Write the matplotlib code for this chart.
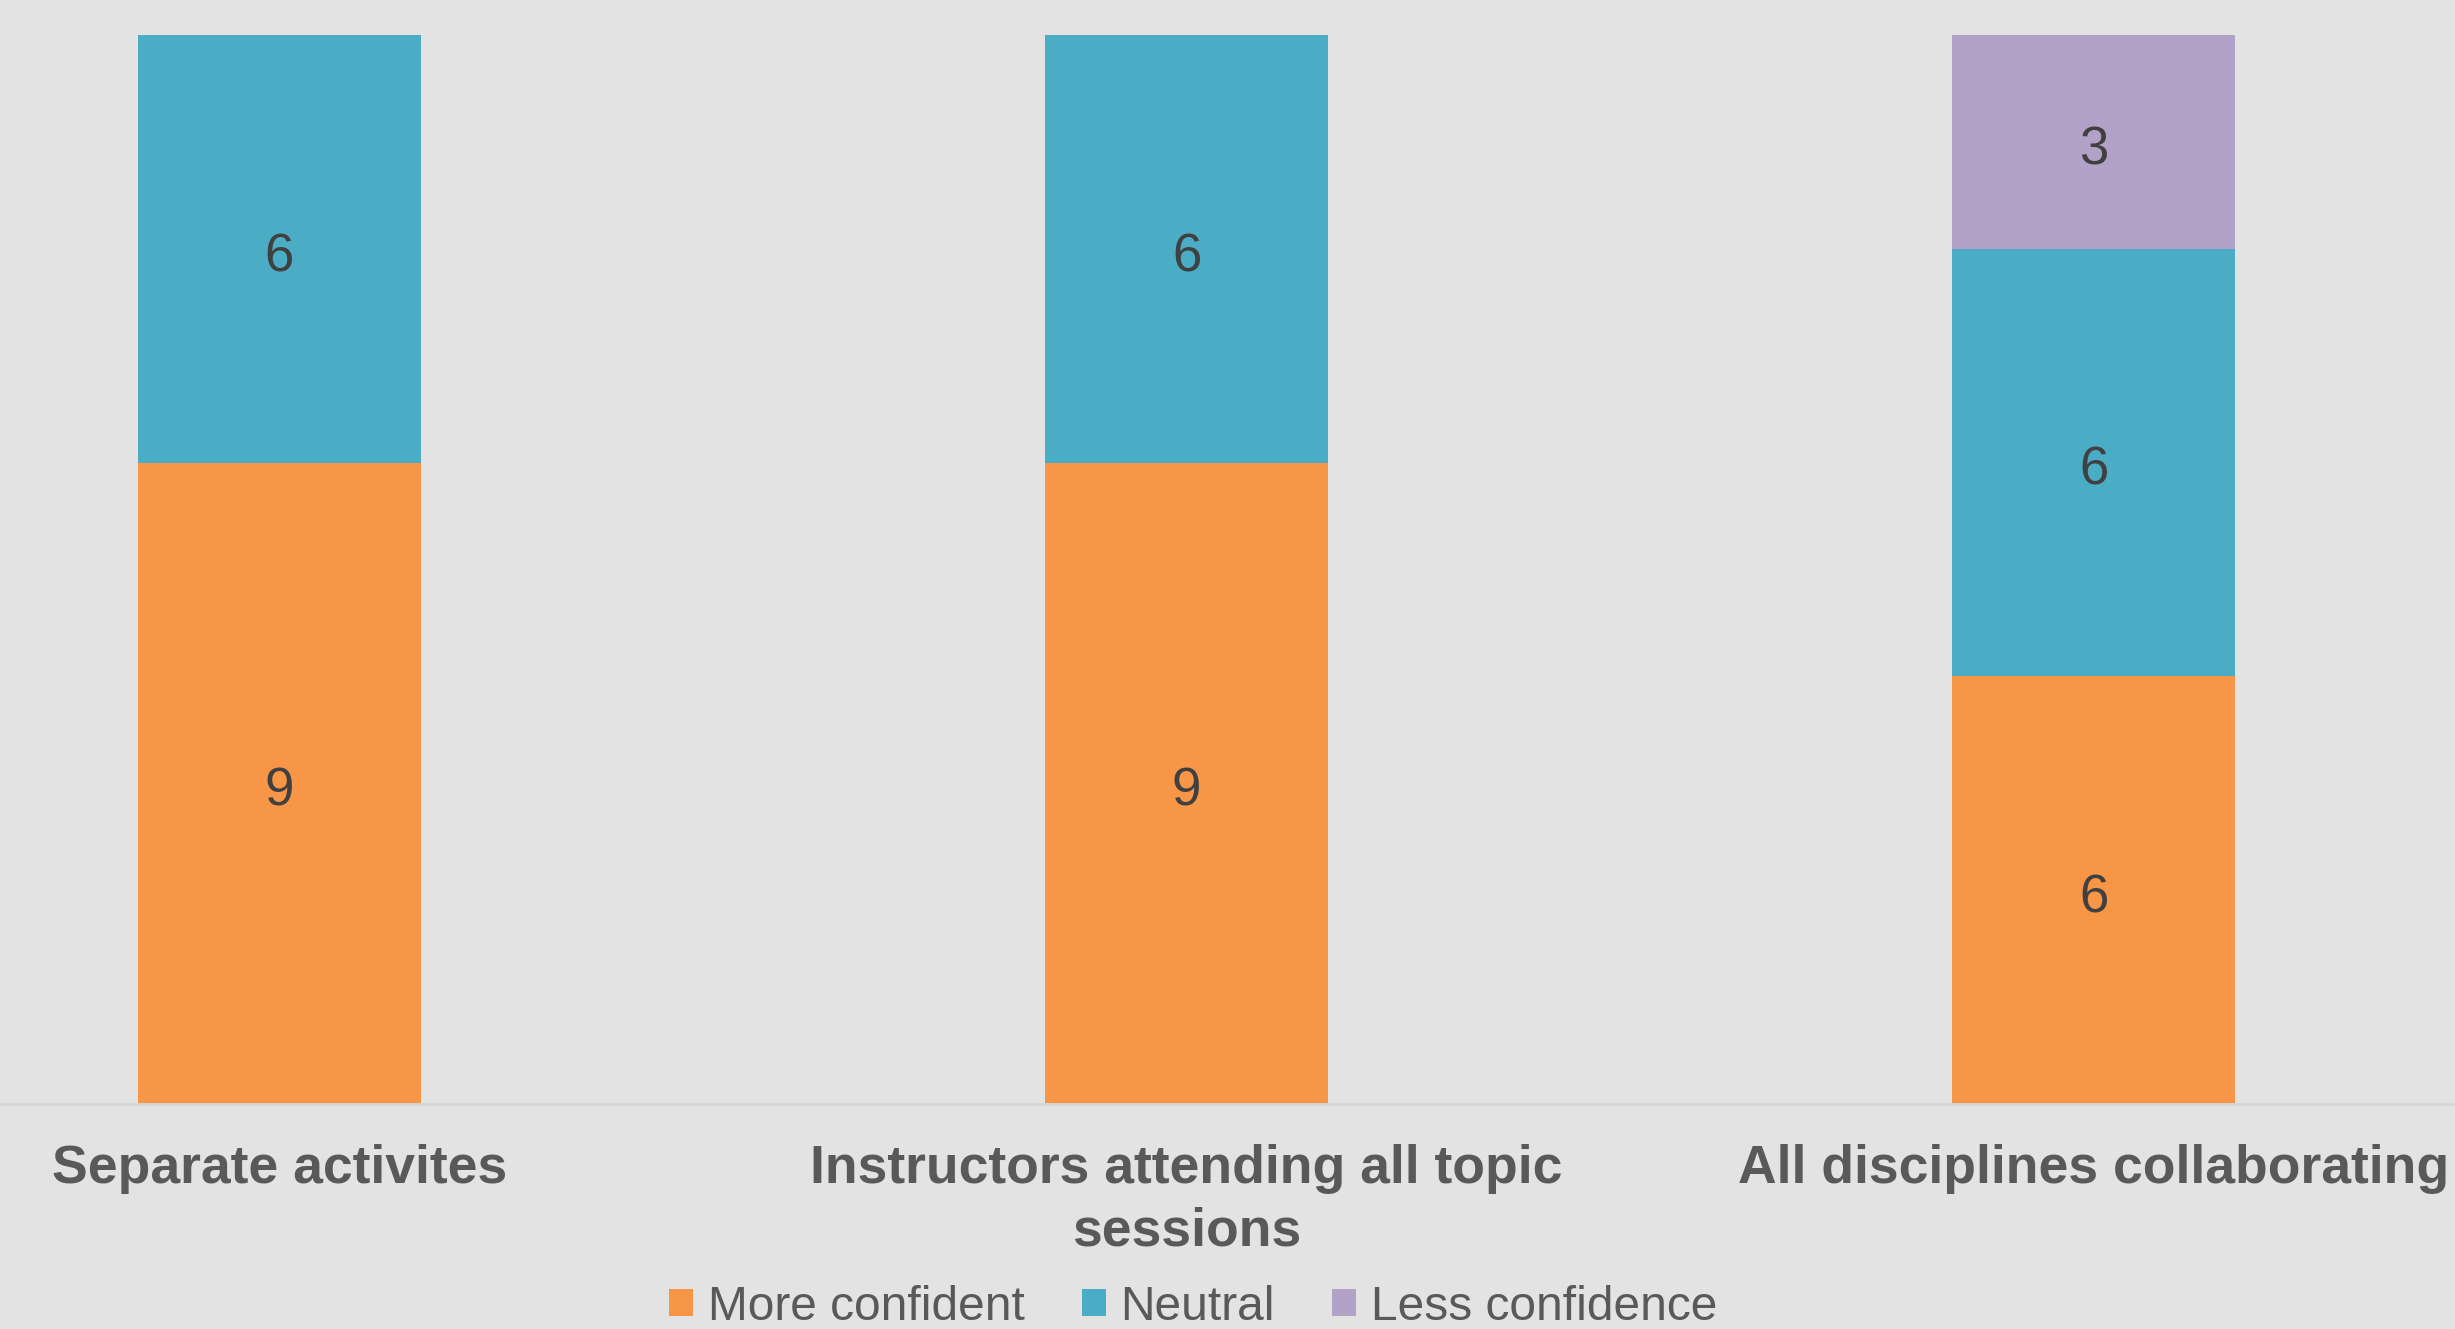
import matplotlib.pyplot as plt
import numpy as np

# data
categories = ["Separate activites", "Instructors attending all topic\nsessions", "All disciplines collaborating"]
more_confident = [9, 9, 6]
neutral = [6, 6, 6]
less_confidence = [0, 0, 3]

series_names = ["More confident", "Neutral", "Less confidence"]
colors = ["#F79646", "#4BACC6", "#B3A2C7"]
bg = "#E3E3E3"

plt.rcParams['font.family'] = ['Liberation Sans', 'DejaVu Sans']

fig = plt.figure(figsize=(24.55, 13.29), dpi=100, facecolor=bg)
ax = fig.add_axes([0, 1 - 1104/1329, 1, (1104 - 35)/1329])
ax.set_facecolor(bg)

x = np.arange(len(categories))
w = 0.312
bottom = np.zeros(len(categories))
for vals, name, c in zip([more_confident, neutral, less_confidence], series_names, colors):
    vals = np.array(vals, dtype=float)
    ax.bar(x, vals, w, bottom=bottom, color=c, label=name)
    for xi, v, b in zip(x, vals, bottom):
        if v > 0:
            ax.annotate(str(int(v)), (xi, b + v/2), xytext=(0, -6),
                        textcoords='offset points', ha='center', va='center',
                        fontsize=38, color='#404040')
    bottom += vals

ax.set_xlim(-0.308, 2.398)
ax.set_ylim(0, 15)
ax.set_yticks([])
ax.set_xticks(x)
ax.set_xticklabels(categories, fontsize=38.5, fontweight='bold', color='#595959',
                   linespacing=1.32)
ax.tick_params(axis='x', length=0, pad=29)
for s in ['top', 'left', 'right']:
    ax.spines[s].set_visible(False)
ax.spines['bottom'].set_color('#D6D6D6')
ax.spines['bottom'].set_linewidth(2)

fig.legend(loc='center', bbox_to_anchor=(0.486, 1 - 1307/1329), ncol=3,
           frameon=False, fontsize=34.5, labelcolor='#595959',
           handlelength=0.5, handleheight=0.5, handletextpad=0.3,
           columnspacing=1.2)

fig.savefig("out.png", dpi=100, facecolor=bg)
